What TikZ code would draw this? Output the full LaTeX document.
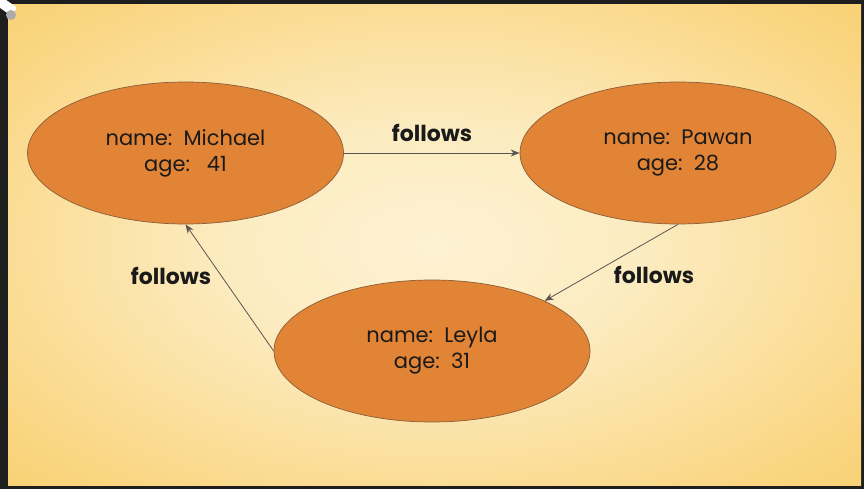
\documentclass[tikz,border=0pt]{standalone}
\usepackage{fontspec}
\setmainfont{Poppins}
\usetikzlibrary{shapes.geometric,arrows.meta}
\definecolor{frame}{HTML}{1E1E1E}
\definecolor{bgin}{HTML}{FDF2D3}
\definecolor{bgout}{HTML}{F8C85A}
\definecolor{nodefill}{HTML}{E28436}
\definecolor{nodeline}{HTML}{8A5E38}
\definecolor{edgecol}{HTML}{5A5550}
\definecolor{txt}{HTML}{1A1A1A}
\pgfdeclareradialshading{bgshade}{\pgfpoint{0bp}{0bp}}{%
  color(0bp)=(bgin); color(12bp)=(bgin!85!bgout); color(30bp)=(bgin!35!bgout); color(45bp)=(bgout); color(50bp)=(bgout)}
\tikzset{
  person/.style={ellipse, draw=nodeline, line width=0.7pt, fill=nodefill,
    minimum width=316pt, minimum height=142pt, inner sep=0pt,
    align=center, text=txt, font=\fontsize{21}{26}\selectfont},
  rel/.style={draw=edgecol, line width=0.8pt, -{Stealth[length=9pt,width=7pt]}},
  rellabel/.style={font=\fontsize{22}{24}\selectfont\bfseries, text=txt, inner sep=0pt}
}
\begin{document}
\begin{tikzpicture}[x=1pt,y=-1pt]
\useasboundingbox (0,0) rectangle (864,489);
\fill[frame] (0,0) rectangle (864,489);
\shade[shading=bgshade] (8,5) rectangle (861,485);
% screenshot cursor artifact
\fill[white, rounded corners=2pt, rotate around={-35:(6,6)}] (-3,1) rectangle (16,11);
\fill[gray!65] (11,15) circle (5);
\node[person] (m) at (185.5,153) {name:\ \ Michael\\age:\ \ \ 41};
\node[person] (p) at (678,153) {name:\ \ Pawan\\age:\ \ 28};
\node[person] (l) at (432,351) {name:\ \ Leyla\\age:\ \ 31};
\draw[rel] (m.east) -- (p.west);
\draw[rel] (p.south) -- (l.24);
\draw[rel] (l.west) -- (m.south);
\node[rellabel] (f1) at (432,133) {follows};
\node[rellabel] (f2) at (654,275) {follows};
\node[rellabel] (f3) at (171,276) {follows};
\end{tikzpicture}
\end{document}
